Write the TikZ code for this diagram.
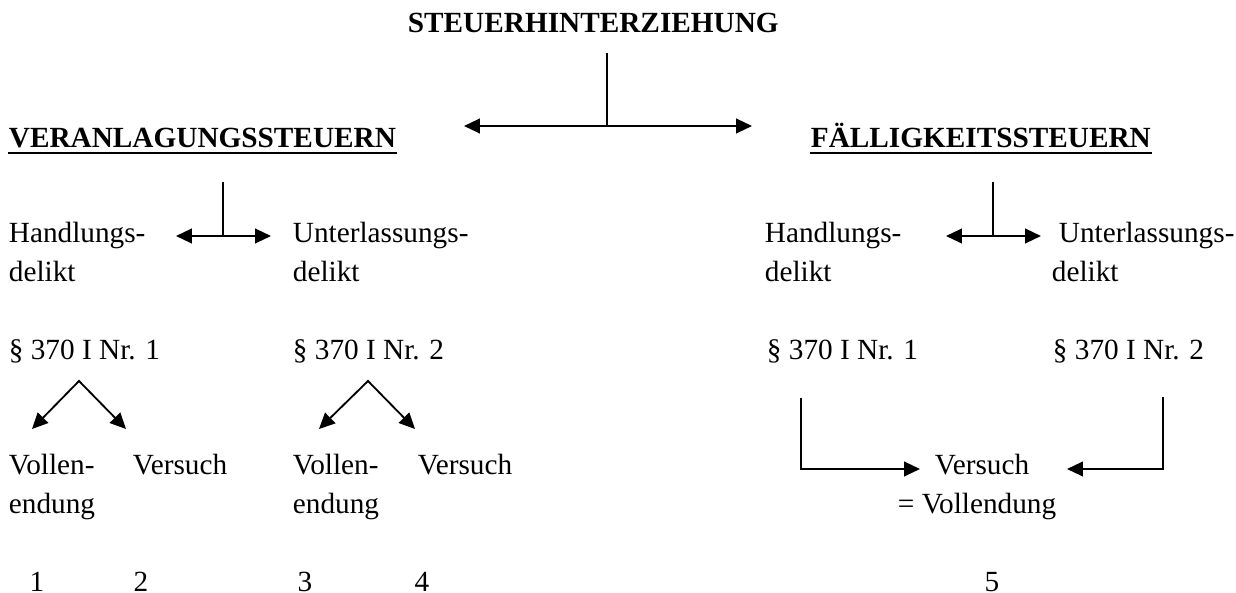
\documentclass[tikz,border=0pt]{standalone}
\usepackage{fontspec}
\setmainfont{Liberation Serif}
\usetikzlibrary{arrows.meta}
\begin{document}
\begin{tikzpicture}[x=0.41pt,y=-0.41pt,line width=0.75pt,
    >={Triangle[length=6.5pt,width=6pt]},
    txt/.style={inner sep=0pt,anchor=base west,font=\fontsize{12}{16}\selectfont},
    kopf/.style={txt,font=\bfseries\fontsize{12}{16}\selectfont}]
    \useasboundingbox (0,0) rectangle (1236,593);
    \node[kopf] (titel) at (407,33) {STEUERHINTERZIEHUNG};
    \node[kopf] (veranl) at (8,148) {VERANLAGUNGSSTEUERN};
    \node[kopf] (faell) at (810,148) {FÄLLIGKEITSSTEUERN};
    \draw[line width=0.8pt] ([yshift=-2pt]veranl.base west) -- ([yshift=-2pt]veranl.base east);
    \draw[line width=0.8pt] ([yshift=-2pt]faell.base west) -- ([yshift=-2pt]faell.base east);
    \foreach \n/\x/\y/\t in {hl1/8/243/Handlungs-,hl2/8/282/delikt,ul1/292/243/Unterlassungs-,ul2/292/282/delikt,
        hr1/764/243/Handlungs-,hr2/764/282/delikt,ur1/1058/243/Unterlassungs-,ur2/1051/282/delikt,
        pl1/8/360/§ 370 I Nr. 1,pl2/292/360/§ 370 I Nr. 2,pr1/766/360/§ 370 I Nr. 1,pr2/1052/360/§ 370 I Nr. 2,
        vl1/8/475/Vollen-,vl2/8/514/endung,vsl/132/475/Versuch,vm1/292/475/Vollen-,vm2/292/514/endung,vsm/417/475/Versuch,
        vsr/934/475/Versuch,gleich/897/514/= Vollendung}
        \node[txt] (\n) at (\x,\y) {\t};
    \foreach \n/\x/\t in {n1/37/1,n2/141/2,n3/305/3,n4/422/4,n5/992/5}
        \node[txt,anchor=base] (\n) at (\x,592) {\t};
    % Verbindungspunkte
    \foreach \n/\x/\y in {o1/607/53,o2/607/126,oa/464/126,ob/752/126,
        bl1/223/182,bl2/223/236,bla/176/236,blb/271/236,br1/993/182,br2/993/236,bra/946/236,brb/1041/236,
        s1/79/381,s1a/32/429,s1b/126/429,s2/368/381,s2a/319/429,s2b/415/429,
        k1/801/398,k1p/920/469,k2/1163/397,k2p/1067/469}
        \coordinate (\n) at (\x,\y);
    \draw (o1) -- (o2);
    \draw[<->] (oa) -- (ob);
    \draw (bl1) -- (bl2);
    \draw[<->] (bla) -- (blb);
    \draw (br1) -- (br2);
    \draw[<->] (bra) -- (brb);
    \foreach \s in {s1,s2} \draw[<->] (\s a) -- (\s) -- (\s b);
    \draw[->] (k1) |- (k1p);
    \draw[->] (k2) |- (k2p);
\end{tikzpicture}
\end{document}
